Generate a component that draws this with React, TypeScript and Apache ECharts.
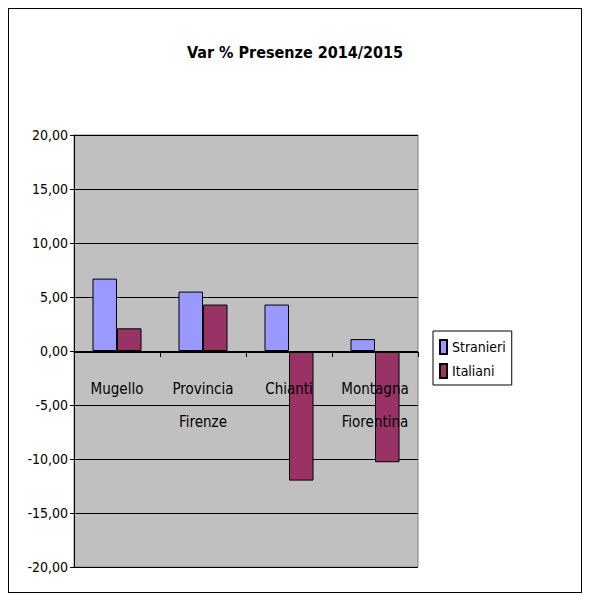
import React, { useEffect, useRef } from "react";
import * as echarts from "echarts";

const categories = ["Mugello", "Provincia\nFirenze", "Chianti", "Montagna\nFiorentina"];
const stranieri = [6.7, 5.5, 4.3, 1.1];
const italiani = [2.1, 4.3, -12.0, -10.3];
const FONT = "'Liberation Sans Narrow', 'DejaVu Sans Condensed', 'Liberation Sans', Arial, sans-serif";

export default function App() {
  const ref = useRef<HTMLDivElement>(null);
  useEffect(() => {
    const chart = echarts.init(ref.current!, undefined, { renderer: "svg" });
    const fmt = (v: number) => v.toFixed(2).replace(".", ",");
    chart.setOption({
      animation: false,
      title: {
        text: "Var % Presenze 2014/2015", left: "center", top: 31,
        textStyle: { fontFamily: FONT, fontSize: 16, fontWeight: "bold", color: "#000" },
      },
      legend: {
        data: ["Stranieri", "Italiani"], orient: "vertical", left: 425, top: 323,
        itemWidth: 7, itemHeight: 14, itemGap: 8, padding: [8, 6, 6, 6],
        borderColor: "#000", borderWidth: 1, icon: "rect",
        textStyle: { fontFamily: FONT, fontSize: 14, color: "#000" },
      },
      grid: { left: 66, right: 164, top: 127, bottom: 26, show: true, backgroundColor: "#c0c0c0", borderColor: "#808080", borderWidth: 1 },
      xAxis: {
        type: "category", data: categories, offset: -215, z: 5,
        axisLine: { onZero: false, lineStyle: { color: "#000" } },
        axisTick: { show: true, length: 5, lineStyle: { color: "#000" } },
        axisLabel: { interval: 0, fontFamily: FONT, fontSize: 15, color: "#000", lineHeight: 33, margin: 20 },
      },
      yAxis: {
        type: "value", min: -20, max: 20, interval: 5,
        axisLine: { show: true, lineStyle: { color: "#000" } },
        axisTick: { show: true, length: 4, lineStyle: { color: "#000" } },
        axisLabel: { formatter: fmt, fontFamily: FONT, fontSize: 14, color: "#000", margin: 6 },
        splitLine: { lineStyle: { color: "#000" } },
      },
      series: [
        { name: "Stranieri", type: "bar", data: stranieri, barGap: "0%", barCategoryGap: "43%", z: 2,
          itemStyle: { color: "#9999ff", borderColor: "#000", borderWidth: 1 } },
        { name: "Italiani", type: "bar", data: italiani, z: 2,
          itemStyle: { color: "#993366", borderColor: "#000", borderWidth: 1 } },
      ],
    });
    return () => chart.dispose();
  }, []);
  return (
    <div style={{ width: 574, height: 585, border: "1px solid #000", boxSizing: "border-box", position: "relative" }}>
      <div ref={ref} style={{ position: "absolute", left: -1, top: -1, width: 574, height: 585 }} />
    </div>
  );
}
